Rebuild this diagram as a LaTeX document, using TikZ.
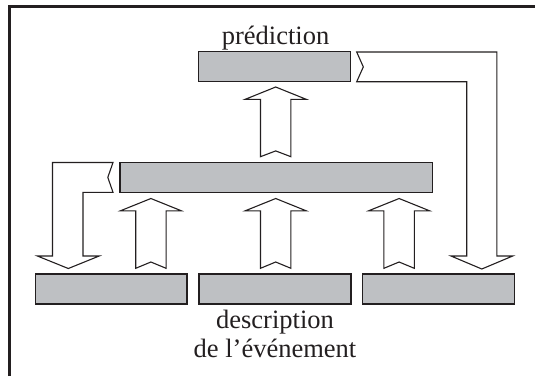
\documentclass[tikz,border=0pt]{standalone}
\usepackage{fontspec}
\setmainfont{Liberation Serif}
\definecolor{boxgray}{RGB}{190,192,195}
\definecolor{ink}{RGB}{35,31,32}
\begin{document}
\begin{tikzpicture}[x=1pt,y=-1pt,
  bar/.style={draw=ink,fill=boxgray,line width=1.1pt,inner sep=0pt,outer sep=0pt,minimum height=30pt},
  blockarrow/.style={draw=ink,fill=white,line width=1.1pt,line join=miter},
  label/.style={font=\fontsize{26.5}{29}\selectfont,text=ink,anchor=base,inner sep=0pt}]
\useasboundingbox (0,0) rectangle (535,376);
% frame
\draw[ink,line width=2.5pt] (9.5,376) -- (9.5,6.5) -- (535,6.5);
% bars
\node[bar,minimum width=152pt] (top) at (274.5,66.7) {};
\node[bar,minimum width=312.8pt,minimum height=29.8pt] (mid) at (276.4,177.4) {};
\node[bar,minimum width=151.2pt] (b1) at (111.4,289) {};
\node[bar,minimum width=152pt] (b2) at (275,289) {};
\node[bar,minimum width=151.6pt] (b3) at (438.5,289) {};
% up block arrows
\newcommand\blockup[4]{%
  \draw[blockarrow] (#1,#2) -- (#1+30.5,#2+12.3) -- (#1+15.2,#2+12.3) -- (#1+15.2,#3)
    -- (#1,#3-#4) -- (#1-15.2,#3) -- (#1-15.2,#2+12.3) -- (#1-30.5,#2+12.3) -- cycle;}
\blockup{275.7}{87}{156.7}{5.8}
\blockup{150.9}{198.5}{268.3}{6.3}
\blockup{275.7}{198.5}{268.3}{6.3}
\blockup{399.1}{198.5}{268.3}{6.3}
% left bent arrow (from middle bar down to first bar)
\draw[blockarrow] (113,162.5) -- (52.5,162.5) -- (52.5,256) -- (37.4,256) -- (68.3,268.5)
  -- (99.2,256) -- (83,256) -- (83,192.3) -- (113,192.3) -- (107.8,177.4) -- cycle;
% right bent arrow (from top bar down to third bar)
\draw[blockarrow] (356.7,52) -- (496.8,52) -- (496.8,256) -- (512.7,256) -- (481.8,269)
  -- (451,256) -- (466.7,256) -- (466.7,81.7) -- (356.7,81.7) -- (363.3,66.9) -- cycle;
% labels
\node[label] (lpred) at (275.6,44.3) {prédiction};
\node[label] (ldesc) at (275,328.3) {description};
\node[label] (levt) at (275,357.3) {de l’événement};
\end{tikzpicture}
\end{document}
